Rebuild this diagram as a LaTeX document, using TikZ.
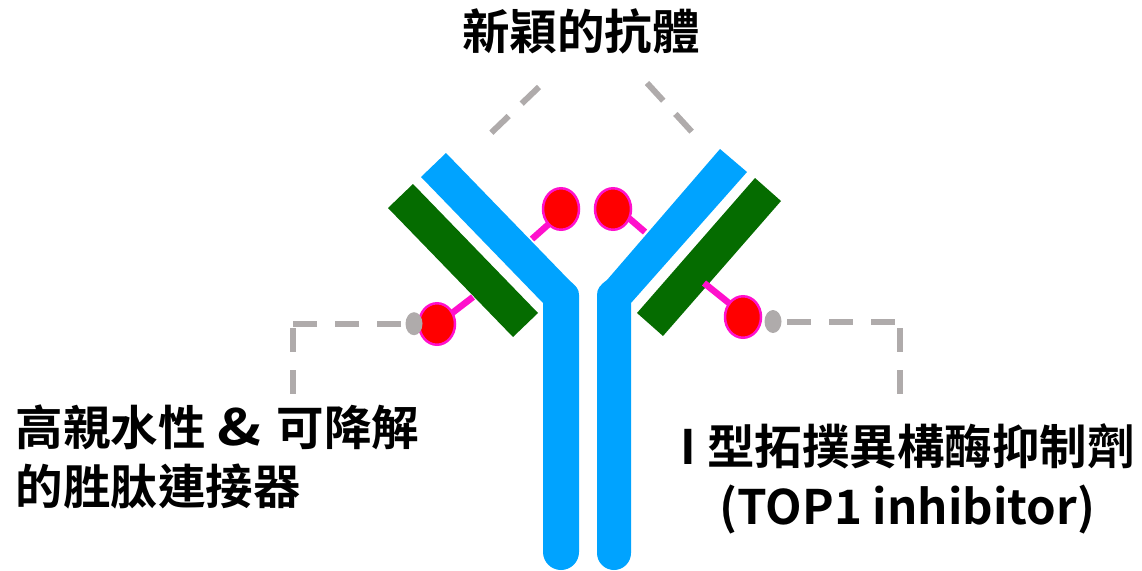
\documentclass[tikz,border=0pt]{standalone}
\usepackage{graphicx}
\usepackage{fontspec}
\setmainfont{Noto Sans CJK TC}[BoldFont=Noto Sans CJK TC Bold]
\usetikzlibrary{shapes.geometric}
\definecolor{chainblue}{HTML}{00A3FF}
\definecolor{chaingreen}{HTML}{056C00}
\definecolor{linkpink}{HTML}{FF10CC}
\definecolor{payloadred}{HTML}{FF0000}
\definecolor{guidegray}{HTML}{AFABAB}
\tikzset{
  heavychain/.style={fill=chainblue,draw=none},
  lightchain/.style={fill=chaingreen,draw=none},
  payload/.style={ellipse,draw=linkpink,fill=payloadred,line width=2.5pt,minimum width=36pt,minimum height=41.5pt,inner sep=0pt,outer sep=0pt},
  linker/.style={draw=linkpink,line width=6.5pt},
  tipcap/.style={ellipse,fill=guidegray,draw=none,minimum width=17pt,minimum height=23pt,inner sep=0pt,outer sep=0pt},
  guide/.style={draw=guidegray,line width=6pt,dash pattern=on 24pt off 18pt},
  caption/.style={font=\fontsize{47.5pt}{59pt}\selectfont\bfseries,text=black,inner sep=0pt,outer sep=0pt}
}
\begin{document}
\begin{tikzpicture}[x=1pt,y=-1pt]
\useasboundingbox (0,0) rectangle (1142,570);

% Heavy chains
\path[heavychain] (421,177) -- (446,153) -- (570,281)
  .. controls (576,286) and (579,289) .. (579,295)
  -- (579,552) arc[start angle=0,end angle=180,radius=18] -- (543,303) -- cycle;
\path[heavychain] (720,149) -- (747,172) -- (631,303) -- (631,553)
  arc[start angle=0,end angle=180,radius=17] -- (597,295)
  .. controls (597,289) and (600,285) .. (607,280) -- cycle;

% Light chains
\path[lightchain] (413,184) -- (538,313) -- (513,337) -- (388,208) -- cycle;
\path[lightchain] (755,178) -- (781,201) -- (663,336) -- (637,313) -- cycle;

% Conjugated payloads
\node[payload] (topleft) at (561,209) {};
\node[payload] (topright) at (613,209) {};
\node[payload] (lowleft) at (437,324) {};
\node[payload] (lowright) at (743,317) {};
\node[tipcap] (capleft) at (414,323.7) {};
\node[tipcap] (capright) at (773,321.5) {};

% Linkers from the chains to the payloads
\coordinate (sitetl) at (532,239);
\coordinate (sitetr) at (645,232);
\coordinate (sitell) at (473,297);
\coordinate (sitelr) at (704,283);
\draw[linker] (sitetl) -- (topleft.231);
\draw[linker] (sitetr) -- (topright.-30);
\draw[linker] (sitell) -- (lowleft.36);
\draw[linker] (sitelr) -- (lowright.135);

% Dashed guides to the captions
\coordinate (leftcorner) at (293,323.7);
\coordinate (leftdrop) at (293,328);
\coordinate (leftend) at (293,394);
\coordinate (rightcorner) at (895,321.5);
\coordinate (rightdrop) at (900,328);
\coordinate (rightend) at (900,394);
\draw[guide] ([xshift=-4.5pt]capleft.west) -- (leftcorner);
\draw[guide] (leftdrop) -- (leftend);
\draw[guide] ([xshift=5.5pt]capright.east) -- (rightcorner);
\draw[guide] (rightdrop) -- (rightend);
\coordinate (apexleft) at (539,87);
\coordinate (footleft) at (491,133);
\coordinate (apexright) at (647,83);
\coordinate (footright) at (692,132);
\draw[guide] (apexleft) -- (footleft);
\draw[guide] (apexright) -- (footright);

% Captions
\node[caption] (title) at (581,31) {新穎的抗體};
\node[caption,anchor=west,align=left] (linkerlabel) at (15.5,457) {高親水性\hspace{12.5pt}\scalebox{1.25}[1.05]{\&}\hspace{4pt} 可降解\\的胜肽連接器};
\node[caption,align=center,font=\fontsize{47.5pt}{60pt}\selectfont\bfseries] (drug) at (907.5,479) {I\hspace{1pt} 型拓撲異構酶抑制劑\\(TOP1 inhibitor)};
\end{tikzpicture}
\end{document}
